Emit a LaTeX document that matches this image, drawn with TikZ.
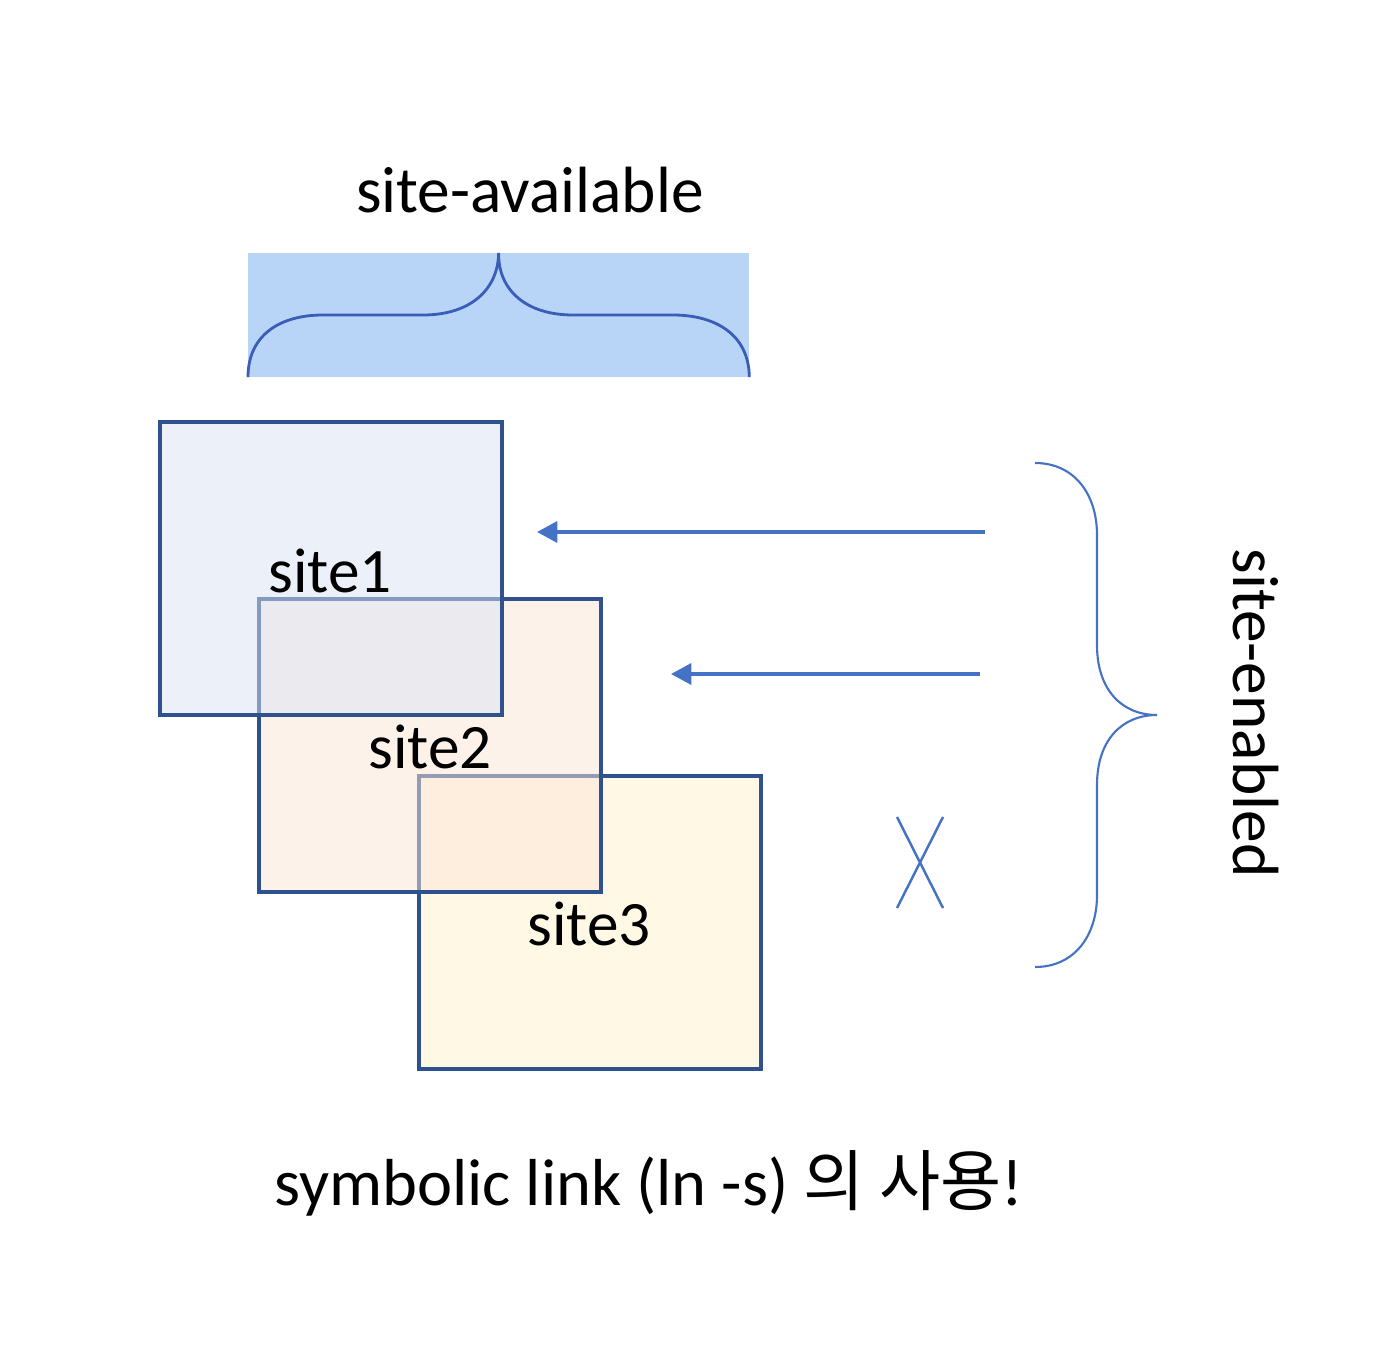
\documentclass[tikz,border=0pt]{standalone}
\usepackage{fontspec}
\setmainfont{Carlito}
\newfontfamily\krfont{Noto Sans CJK KR}
\usetikzlibrary{arrows.meta}
\definecolor{officeblue}{HTML}{4472C4}
\definecolor{boxborder}{HTML}{2F528F}
\definecolor{availfill}{HTML}{B8D5F8}
\definecolor{bracedark}{HTML}{3A5DB8}
\definecolor{fillone}{HTML}{DAE3F3}
\definecolor{filltwo}{HTML}{FBE5D6}
\definecolor{fillthree}{HTML}{FFF2CC}
\tikzset{
  sitebox/.style={draw=boxborder, line width=1.05pt, fill opacity=0.5, draw opacity=1,
    inner sep=0pt, outer sep=0pt, anchor=north west,
    minimum width=3.42cm, minimum height=2.93cm},
  lbl/.style={font=\fontsize{18}{22}\selectfont, anchor=base, inner sep=0pt, text=black},
  biglbl/.style={lbl, font=\fontsize{18.6}{22}\selectfont},
  linkarrow/.style={draw=officeblue, line width=1pt, -{Triangle[length=5.8pt,width=6pt]}},
  thinblue/.style={draw=officeblue, line width=0.7pt},
}
\begin{document}
\begin{tikzpicture}[x=0.01cm, y=-0.01cm]
\useasboundingbox (0,0) rectangle (1400,1358);
% title
\node[biglbl] (title) at (530,213) {site-available};
% available block with brace
\node[fill=availfill, inner sep=0pt, outer sep=0pt, anchor=north west,
      minimum width=5.01cm, minimum height=1.24cm] (avail) at (248,253) {};
\draw[draw=bracedark, line width=0.8pt]
  (avail.south west) .. controls (248,335) and (280,315) .. (323,315)
  -- (423,315) .. controls (470,315) and (498,290) .. (avail.north)
  .. controls (498,290) and (526,315) .. (573,315)
  -- (673,315) .. controls (716,315) and (749,335) .. (avail.south east);
% boxes
\node[sitebox, fill=fillthree] (s3) at (419,776) {};
\node[sitebox, fill=filltwo] (s2) at (259,599) {};
\node[sitebox, fill=fillone] (s1) at (160,422) {};
\node[lbl] (l1) at (330,592) {site1};
\node[lbl] (l2) at (430,768) {site2};
\node[lbl] (l3) at (589,945) {site3};
% arrows
\coordinate (a1s) at (985,532);
\coordinate (a1e) at (537,532);
\coordinate (a2s) at (980,674);
\coordinate (a2e) at (671,674);
\draw[linkarrow] (a1s) -- (a1e);
\draw[linkarrow] (a2s) -- (a2e);
% X
\coordinate (x1) at (897,817);
\coordinate (x2) at (943,908);
\coordinate (x3) at (943,817);
\coordinate (x4) at (897,908);
\draw[thinblue] (x1) -- (x2);
\draw[thinblue] (x3) -- (x4);
% right brace
\coordinate (bt) at (1035,463);
\coordinate (bm) at (1157,715);
\coordinate (bb) at (1035,967);
\draw[draw=officeblue, line width=0.6pt]
  (bt) .. controls (1075,463) and (1097,495) .. (1097,535)
  -- (1097,645) .. controls (1097,690) and (1122,715) .. (bm)
  .. controls (1122,715) and (1097,740) .. (1097,785)
  -- (1097,895) .. controls (1097,935) and (1075,967) .. (bb);
\node[biglbl, rotate=-90] (enabled) at (1233,713) {site-enabled};
% bottom caption
\node[lbl, font=\fontsize{18.9}{22}\selectfont] (caption) at (649,1205) {symbolic link (ln -s) {\krfont 의 사용}!};
\end{tikzpicture}
\end{document}
